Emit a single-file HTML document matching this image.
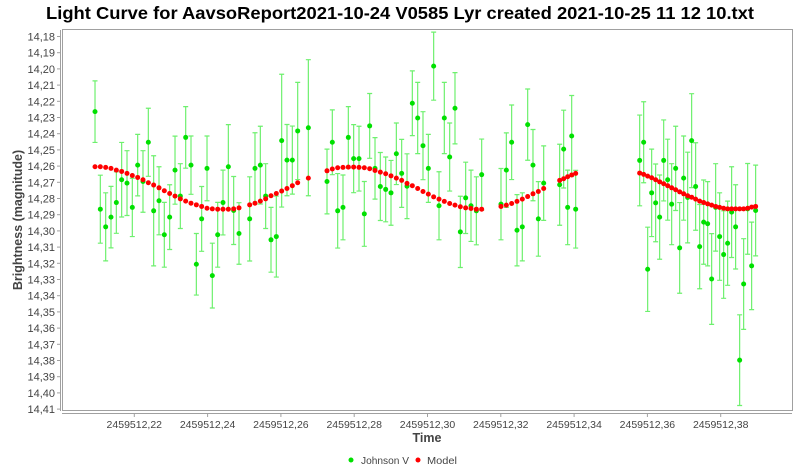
<!DOCTYPE html>
<html><head><meta charset="utf-8">
<style>
html,body{margin:0;padding:0;background:#fff;}
svg{display:block;font-family:"Liberation Sans","DejaVu Sans",sans-serif;}
</style></head>
<body>
<svg id="chart" width="800" height="470" viewBox="0 0 800 470">
<text x="400" y="19" text-anchor="middle" font-size="17.5" font-weight="bold" fill="#000" textLength="708" lengthAdjust="spacingAndGlyphs">Light Curve for AavsoReport2021-10-24 V0585 Lyr created 2021-10-25 11 12 10.txt</text>
<rect x="62.5" y="29.5" width="730" height="381" fill="#fff" stroke="#a0a0a0"/>
<line x1="60.5" y1="30" x2="60.5" y2="411" stroke="#a0a0a0"/>
<line x1="62" y1="413.5" x2="792" y2="413.5" stroke="#a0a0a0"/>
<g id="yticks"></g>
<g id="xticks"></g>
<g id="errbars"></g>
<g id="obs"></g>
<g id="model"></g>
<text x="427" y="442" text-anchor="middle" font-size="12.5" font-weight="bold" fill="#444">Time</text>
<text transform="translate(22,220) rotate(-90)" text-anchor="middle" font-size="12.5" font-weight="bold" fill="#444">Brightness (magnitude)</text>
<g>
<g><circle cx="351" cy="460" r="2.5" fill="#00e000"/><text x="361" y="464" font-size="10.5" fill="#444" textLength="48" lengthAdjust="spacingAndGlyphs">Johnson V</text></g>
<g><circle cx="418" cy="460" r="2.5" fill="#ff0000"/><text x="427" y="464" font-size="10.5" fill="#444" textLength="30" lengthAdjust="spacingAndGlyphs">Model</text></g>
</g>
</svg>
<script>
const obsTime = [0.20928,0.21073,0.21219,0.21364,0.21510,0.21655,0.21801,0.21946,0.22092,0.22237,0.22383,0.22528,0.22674,0.22819,0.22965,0.23111,0.23256,0.23402,0.23547,0.23693,0.23838,0.23984,0.24129,0.24275,0.24420,0.24566,0.24711,0.24857,0.25148,0.25293,0.25439,0.25584,0.25730,0.25875,0.26021,0.26166,0.26312,0.26458,0.26749,
0.27258,0.27403,0.27549,0.27694,0.27840,0.27985,0.28131,0.28276,0.28422,0.28568,0.28713,0.28859,0.29004,0.29150,0.29295,0.29441,0.29586,0.29732,0.29877,0.30023,0.30168,0.30314,0.30459,0.30605,0.30750,0.30896,0.31041,0.31187,0.31333,0.31478,0.32005,0.32151,0.32296,0.32442,0.32587,0.32733,0.32878,0.33024,0.33170,0.33606,0.33715,0.33824,0.33934,0.34043,
0.35789,0.35898,0.36007,0.36116,0.36225,0.36334,0.36444,0.36553,0.36662,0.36771,0.36880,0.36989,0.37098,0.37207,0.37316,0.37426,0.37535,0.37644,0.37753,0.37862,0.37971,0.38080,0.38189,0.38298,0.38407,0.38517,0.38626,0.38735,0.38844,0.38953];
const obsMag = [14.2264,14.2866,14.2975,14.2915,14.2825,14.2684,14.2705,14.2855,14.2594,14.2695,14.2453,14.2876,14.2814,14.3024,14.2915,14.2625,14.2785,14.2423,14.2594,14.3206,14.2926,14.2614,14.3276,14.3024,14.2825,14.2604,14.2874,14.3016,14.2926,14.2614,14.2594,14.2785,14.3055,14.3035,14.2443,14.2563,14.2563,14.2383,14.2363,
14.2695,14.2453,14.2876,14.2855,14.2423,14.2554,14.2554,14.2895,14.2352,14.2614,14.2726,14.2744,14.2765,14.2524,14.2645,14.2724,14.2212,14.2303,14.2474,14.2614,14.1983,14.2845,14.2303,14.2544,14.2243,14.3006,14.2796,14.2845,14.2876,14.2653,14.2835,14.2625,14.2453,14.2996,14.2975,14.2344,14.2594,14.2926,14.2705,14.2715,14.2495,14.2855,14.2414,14.2866,
14.2565,14.2453,14.3237,14.2765,14.2827,14.2915,14.2565,14.2684,14.2835,14.2614,14.3105,14.2674,14.2794,14.2443,14.2726,14.3097,14.2946,14.2956,14.3297,14.2855,14.3035,14.3146,14.3076,14.2884,14.2975,14.3798,14.3328,14.2864,14.3216,14.2874];
const obsErr = [0.019,0.021,0.021,0.019,0.019,0.023,0.020,0.018,0.019,0.019,0.021,0.034,0.021,0.020,0.020,0.021,0.020,0.019,0.018,0.019,0.020,0.020,0.020,0.020,0.020,0.026,0.021,0.019,0.026,0.022,0.024,0.020,0.020,0.025,0.041,0.022,0.021,0.030,0.042,
0.020,0.020,0.023,0.020,0.019,0.021,0.020,0.020,0.020,0.019,0.021,0.020,0.020,0.019,0.021,0.020,0.020,0.022,0.021,0.021,0.021,0.021,0.022,0.021,0.022,0.022,0.022,0.022,0.021,0.022,0.022,0.023,0.023,0.022,0.021,0.022,0.022,0.023,0.023,0.025,0.024,0.023,0.025,0.024,
0.028,0.025,0.026,0.027,0.024,0.026,0.025,0.025,0.025,0.026,0.028,0.026,0.028,0.029,0.027,0.026,0.026,0.026,0.028,0.027,0.027,0.027,0.026,0.028,0.026,0.028,0.028,0.028,0.027,0.028];
const modelMag = [14.2604,14.2604,14.2608,14.2614,14.2625,14.2633,14.2645,14.2658,14.2670,14.2684,14.2703,14.2717,14.2734,14.2752,14.2769,14.2785,14.2802,14.2816,14.2829,14.2839,14.2849,14.2860,14.2864,14.2866,14.2866,14.2866,14.2864,14.2858,14.2839,14.2829,14.2816,14.2802,14.2783,14.2769,14.2754,14.2738,14.2721,14.2703,14.2674,
14.2629,14.2618,14.2610,14.2608,14.2606,14.2606,14.2608,14.2610,14.2616,14.2627,14.2637,14.2647,14.2660,14.2674,14.2688,14.2707,14.2721,14.2738,14.2757,14.2773,14.2790,14.2804,14.2818,14.2831,14.2841,14.2851,14.2858,14.2862,14.2866,14.2866,14.2849,14.2841,14.2831,14.2818,14.2804,14.2788,14.2771,14.2757,14.2738,14.2688,14.2678,14.2666,14.2655,14.2645,
14.2643,14.2651,14.2662,14.2672,14.2684,14.2697,14.2709,14.2721,14.2734,14.2746,14.2759,14.2771,14.2783,14.2792,14.2804,14.2816,14.2825,14.2833,14.2841,14.2849,14.2855,14.2860,14.2864,14.2864,14.2864,14.2864,14.2864,14.2860,14.2853,14.2849];
const yTickLabels = ["14,18","14,19","14,20","14,21","14,22","14,23","14,24","14,25","14,26","14,27","14,28","14,29","14,30","14,31","14,32","14,33","14,34","14,35","14,36","14,37","14,38","14,39","14,40","14,41"];
const yTickValues = [14.18,14.19,14.20,14.21,14.22,14.23,14.24,14.25,14.26,14.27,14.28,14.29,14.30,14.31,14.32,14.33,14.34,14.35,14.36,14.37,14.38,14.39,14.40,14.41];
const xTickValues = [0.22,0.24,0.26,0.28,0.30,0.32,0.34,0.36,0.38];
const xTickLabels = ["2459512,22","2459512,24","2459512,26","2459512,28","2459512,30","2459512,32","2459512,34","2459512,36","2459512,38"];

const NS = "http://www.w3.org/2000/svg";
function xs(t){ return 134.3 + (t - 0.22) * 3665; }
function ys(m){ return 36.5 + (m - 14.18) * 1620; }
function mk(tag, attrs, parent){ const e=document.createElementNS(NS,tag); for(const k in attrs) e.setAttribute(k,attrs[k]); parent.appendChild(e); return e; }

const gy=document.getElementById('yticks');
yTickValues.forEach((v,i)=>{
  const y=ys(v);
  const tk=mk('line',{x1:57,x2:60,y1:y,y2:y,stroke:'#a0a0a0'},gy);
  
  
  const t=mk('text',{x:55,y:y+4,'text-anchor':'end','font-size':'11',fill:'#444'},gy);
  t.textContent=yTickLabels[i];
  
  
});
const gx=document.getElementById('xticks');
xTickValues.forEach((v,i)=>{
  const x=xs(v);
  const tk=mk('line',{x1:x,x2:x,y1:414,y2:417,stroke:'#a0a0a0'},gx);
  
  
  const t=mk('text',{x:x,y:428,'text-anchor':'middle','font-size':'10.5',fill:'#444'},gx);
  t.textContent=xTickLabels[i];
  
  
});
const ge=document.getElementById('errbars');
const go=document.getElementById('obs');
const gm=document.getElementById('model');
obsTime.forEach((t,i)=>{
  const x=xs(t), y1=ys(obsMag[i]-obsErr[i]), y2=ys(obsMag[i]+obsErr[i]);
  const b=mk('path',{d:`M${x},${y1}V${y2}M${x-2.5},${y1}H${x+2.5}M${x-2.5},${y2}H${x+2.5}`,stroke:'#6ef06e','stroke-width':1.2,fill:'none'},ge);
  
  
});
obsTime.forEach((t,i)=>{
  const m=mk('circle',{cx:xs(t),cy:ys(modelMag[i]),r:2.5,fill:'#ff0000'},gm);
  
  
});
obsTime.forEach((t,i)=>{
  const c=mk('circle',{cx:xs(t),cy:ys(obsMag[i]),r:2.5,fill:'#00e000'},go);
  
  
});
</script>
</body></html>
